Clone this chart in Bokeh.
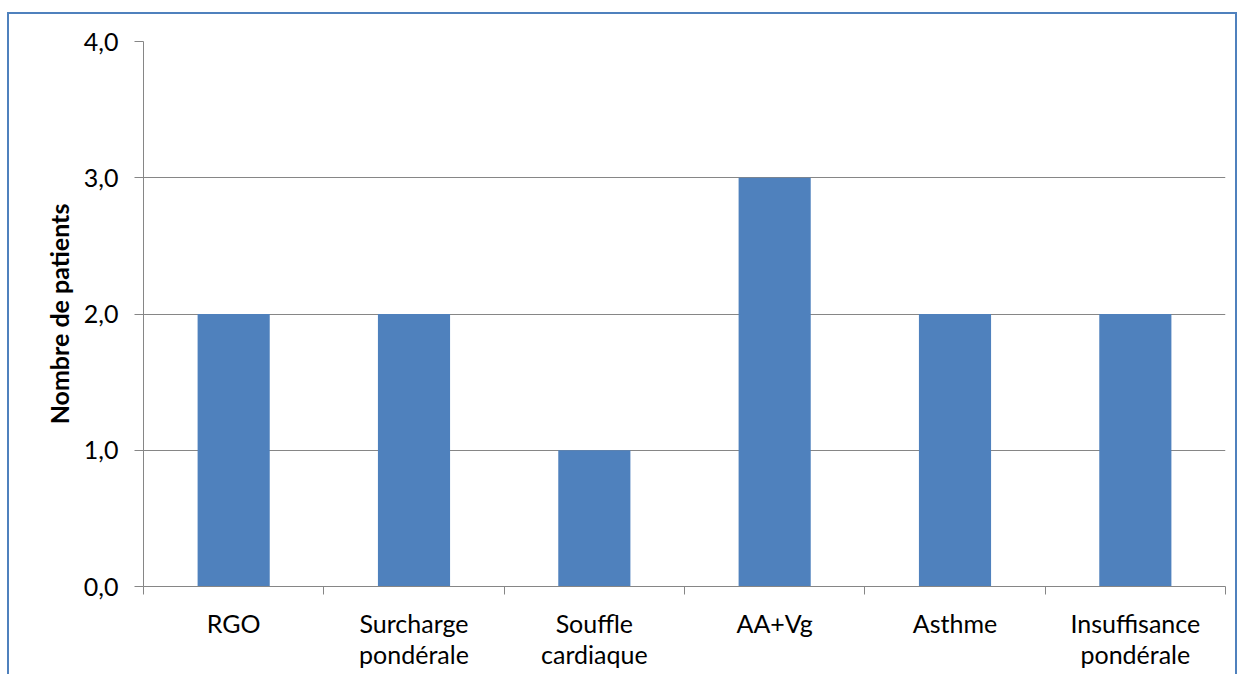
from bokeh.plotting import figure
from bokeh.models import Range1d, FixedTicker, ColumnDataSource
from bokeh.embed import file_html
from bokeh.resources import INLINE

categories = ["RGO", "Surcharge\npondérale", "Souffle\ncardiaque", "AA+Vg", "Asthme", "Insuffisance\npondérale"]
values = [2, 2, 1, 3, 2, 2]
y_ticks = [0, 1, 2, 3, 4]
y_tick_labels = ["0,0", "1,0", "2,0", "3,0", "4,0"]

FONT = "Lato"
GRAY = "#868686"

n = len(categories)
centers = [i + 0.5 for i in range(n)]
src = ColumnDataSource(dict(x=centers, top=values))

p = figure(width=1230, height=662, output_backend="svg", toolbar_location=None,
           x_range=Range1d(0, n), y_range=Range1d(0, 4),
           min_border_left=134, min_border_right=14, min_border_top=27, min_border_bottom=90)
p.styles = {"border-top": "2px solid #4F81BD", "border-left": "2px solid #4F81BD",
            "border-right": "2px solid #4F81BD", "margin-top": "12px", "margin-left": "7px"}

p.vbar(x="x", top="top", width=0.4, source=src, color="#4F81BD", line_color=None)

p.outline_line_color = None
p.xgrid.grid_line_color = None
p.ygrid.grid_line_color = GRAY
p.ygrid.grid_line_width = 1

xa = p.xaxis[0]
xa.ticker = FixedTicker(ticks=centers, minor_ticks=list(range(n + 1)))
xa.major_label_overrides = {c: lab for c, lab in zip(centers, categories)}
xa.major_tick_out = 0
xa.major_tick_in = 0
xa.minor_tick_out = 8
xa.minor_tick_in = 0
xa.minor_tick_line_color = GRAY
xa.axis_line_color = GRAY
xa.major_label_text_font = FONT
xa.major_label_text_font_size = "25px"
xa.major_label_text_line_height = 1.05
xa.major_label_text_color = "#000000"
xa.major_label_standoff = 13

ya = p.yaxis[0]
ya.ticker = FixedTicker(ticks=y_ticks)
ya.major_label_overrides = {t: lab for t, lab in zip(y_ticks, y_tick_labels)}
ya.minor_tick_line_color = None
ya.major_tick_out = 9
ya.major_tick_in = 0
ya.major_tick_line_color = GRAY
ya.axis_line_color = GRAY
ya.major_label_text_font = FONT
ya.major_label_text_font_size = "25px"
ya.major_label_text_color = "#000000"
ya.major_label_standoff = 16
ya.axis_label = "Nombre de patients"
ya.axis_label_text_font = FONT
ya.axis_label_text_font_size = "25px"
ya.axis_label_text_font_style = "bold"
ya.axis_label_text_color = "#000000"
ya.axis_label_standoff = 7

open("out.html", "w").write(file_html(p, INLINE))
